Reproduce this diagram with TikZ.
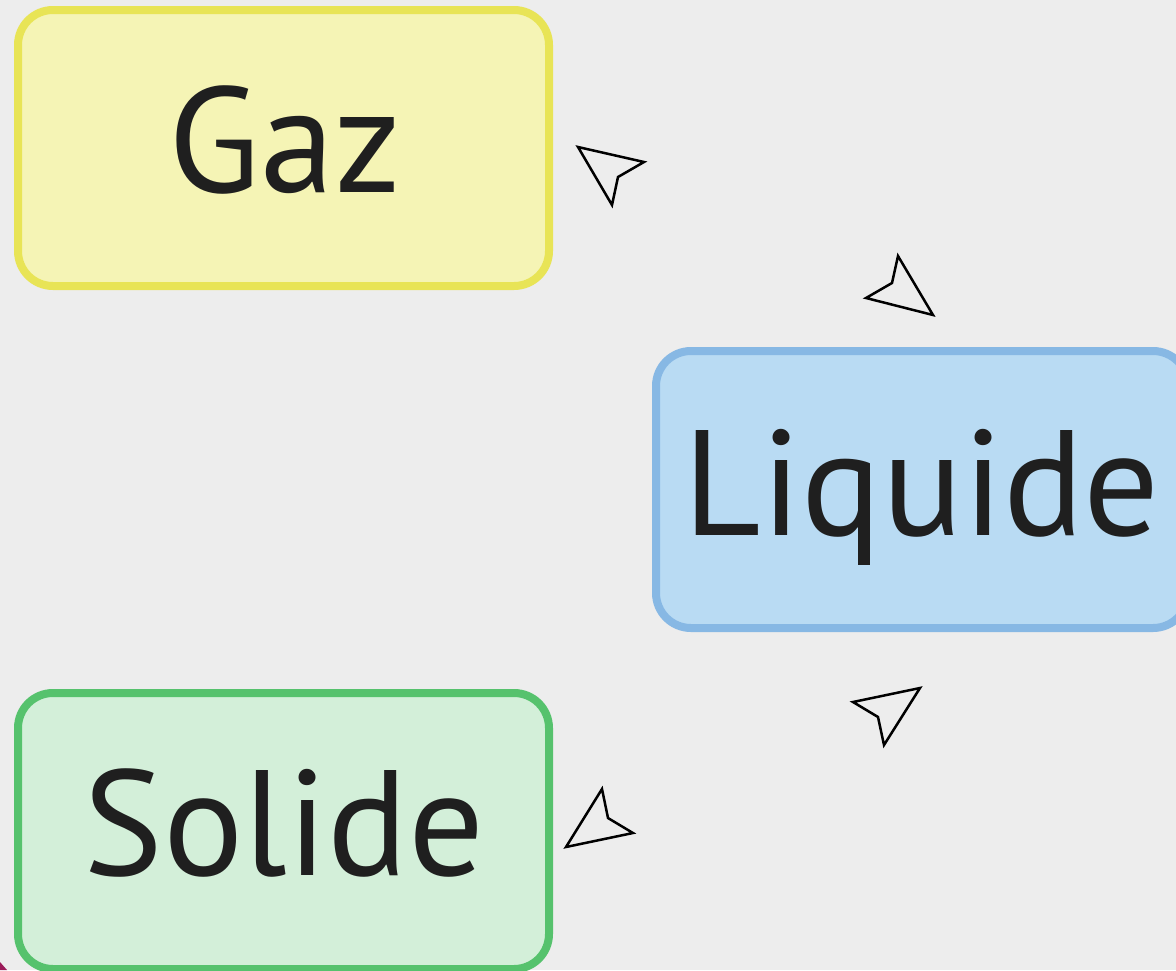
\documentclass[tikz,border=0pt]{standalone}
\usepackage{fontspec}
\setmainfont{PT Sans}
\definecolor{bg}{HTML}{EDEDED}
\definecolor{gazfill}{HTML}{F5F4B5}
\definecolor{gazline}{HTML}{E8E456}
\definecolor{liqfill}{HTML}{B9DBF3}
\definecolor{liqline}{HTML}{87B8E4}
\definecolor{solfill}{HTML}{D3EFD9}
\definecolor{solline}{HTML}{56C26D}
\definecolor{edgepink}{HTML}{9B1B5A}
\tikzset{
  phase/.style={rectangle, rounded corners=35pt, line width=8pt,
    inner sep=0pt, outer sep=0pt},
  phasetext/.style={anchor=base, inner sep=0pt, text=black!88,
    font=\fontsize{150}{160}\selectfont},
  tiphead/.style={draw=black, line width=2.5pt, fill=bg, line join=miter}
}
\begin{document}
\begin{tikzpicture}[x=1pt,y=-1pt]
\useasboundingbox (0,0) rectangle (1176,970);
\clip (0,0) rectangle (1176,970);
\fill[bg] (0,0) rectangle (1176,970);

% state boxes
\node[phase, fill=gazfill, draw=gazline, minimum width=531pt, minimum height=276pt] (gaz) at (283.5,148) {};
\node[phase, fill=liqfill, draw=liqline, minimum width=532pt, minimum height=277pt] (liq) at (922,489.5) {};
\node[phase, fill=solfill, draw=solline, minimum width=531pt, minimum height=276pt] (sol) at (283.5,831) {};

\node[phasetext] (gaztxt) at (285,192) {Gaz};
\node[phasetext] (liqtxt) at (922,535) {Liquide};
\node[phasetext] (soltxt) at (284,875) {Solide};

% arrow tips of the transitions
\draw[tiphead] (578,147) -- (644,162) -- (618,177) -- (612,205) -- cycle;
\draw[tiphead] (933,315) -- (866,298) -- (892,283) -- (898,256) -- cycle;
\draw[tiphead] (920,688) -- (853,702) -- (878,717) -- (884,745) -- cycle;
\draw[tiphead] (566,847) -- (633,833) -- (608,818) -- (602,789) -- cycle;

% corner of a neighbouring shape
\fill[edgepink] (0,962) -- (7,970) -- (0,970) -- cycle;
\end{tikzpicture}
\end{document}
